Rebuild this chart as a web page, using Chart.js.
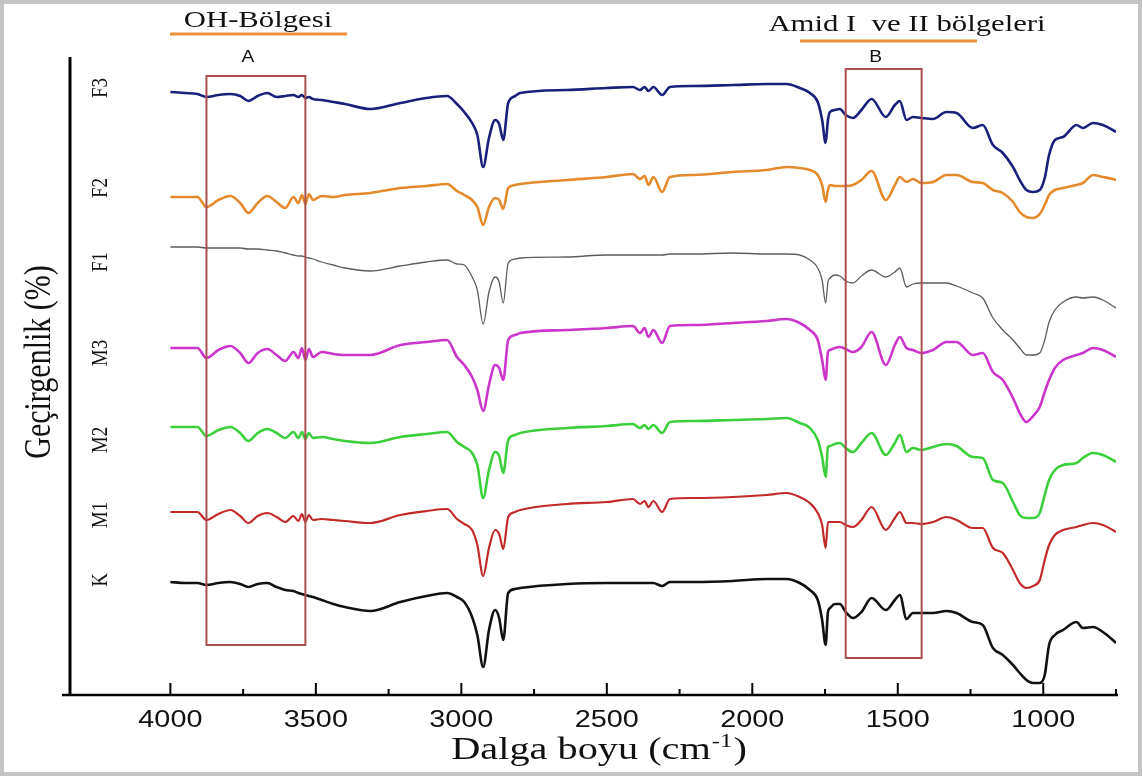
<!DOCTYPE html>
<html>
<head>
<meta charset="utf-8">
<script src="https://cdn.jsdelivr.net/npm/chart.js@4.4.1/dist/chart.umd.min.js"></script>
<style>
  html, body { margin: 0; padding: 0; background: #fff; }
  #wrap { width: 1142px; height: 776px; position: relative; box-sizing: border-box; border: 4px solid #c4c4c4; }
  canvas { position: absolute; left: -4px; top: -4px; }
</style>
</head>
<body>
<div id="wrap"><canvas id="ftir" width="1142" height="776"></canvas></div>
<script>
// FTIR spectra, stacked; y is an offset transmittance (arbitrary units)
const wavenumbers = [
  4000, 3950, 3907, 3876, 3835, 3794, 3760, 3732, 3700, 3667,
  3635, 3605, 3577, 3560, 3548, 3536, 3524, 3510, 3480, 3440,
  3400, 3313, 3210, 3120, 3049, 3015, 2990, 2963, 2945, 2925,
  2905, 2884, 2870, 2856, 2839, 2815, 2798, 2637, 2500, 2410,
  2386, 2370, 2357, 2340, 2310, 2283, 2200, 2067, 1950, 1882,
  1837, 1802, 1775, 1760, 1748, 1740, 1733, 1716, 1699, 1679,
  1654, 1625, 1590, 1541, 1510, 1493, 1470, 1448, 1419, 1379,
  1333, 1298, 1242, 1208, 1173, 1139, 1104, 1081, 1058, 1035,
  1012, 995, 980, 960, 932, 886, 864, 829, 795, 761,
  750
];

const specF3 = [
  603, 602, 601, 598, 600, 601, 599, 594, 599, 602,
  598, 599, 600, 598, 600, 597, 598, 596, 595, 593,
  591, 586, 592, 597, 599, 591, 583, 572, 560, 528,
  557, 575, 571, 555, 592, 599, 602, 605, 607, 608,
  605, 608, 604, 608, 600, 608, 609, 610, 611, 611,
  607, 602, 593, 575, 552, 575, 583, 585, 586, 580,
  577, 585, 596, 578, 590, 594, 575, 578, 577, 576,
  583, 582, 567, 570, 550, 542, 528, 515, 505, 503,
  505, 517, 540, 555, 558, 570, 567, 572, 570, 565,
  563
];

const specF2 = [
  498, 498, 498, 488, 495, 499, 492, 482, 492, 499,
  493, 487, 498, 492, 500, 491, 501, 495, 499, 498,
  500, 502, 507, 509, 511, 504, 500, 495, 488, 470,
  488, 497, 495, 486, 507, 510, 511, 515, 518, 521,
  516, 519, 510, 518, 503, 518, 520, 523, 525, 528,
  527, 525, 520, 510, 493, 505, 510, 509, 509, 509,
  510, 515, 524, 495, 510, 518, 513, 516, 512, 513,
  520, 520, 513, 512, 505, 502, 493, 483, 478, 477,
  481, 490, 500, 505, 507, 510, 512, 520, 518, 516,
  515
];

const specF1 = [
  448, 448, 448, 447, 447, 447, 447, 446, 446, 445,
  444, 442, 440, 439, 439, 438, 437, 436, 433, 430,
  427, 424, 429, 433, 435, 431, 430, 418, 405, 371,
  403, 418, 413, 392, 432, 436, 437, 438, 440, 440,
  440, 440, 440, 440, 440, 441, 441, 442, 441, 441,
  440, 435, 427, 415, 392, 413, 417, 420, 419, 414,
  412, 419, 425, 418, 423, 427, 408, 411, 412, 412,
  412, 409, 402, 397, 377, 365, 355, 347, 340, 340,
  342, 355, 373, 385, 393, 398, 397, 398, 395, 389,
  387
];

const specM3 = [
  347, 347, 347, 337, 345, 349, 342, 332, 342, 346,
  340, 334, 343, 337, 347, 335, 346, 338, 343, 341,
  340, 340, 350, 353, 355, 338, 330, 318, 305, 284,
  310, 330, 327, 315, 355, 360, 362, 365, 367, 369,
  362, 367, 358, 365, 352, 369, 370, 372, 374, 376,
  372, 365, 355, 335, 315, 343, 345, 347, 348, 346,
  343, 348, 363, 330, 350, 358, 347, 345, 342, 345,
  353, 353, 340, 342, 323, 315, 297, 282, 273, 279,
  288, 303, 315, 327, 335, 340, 342, 347, 345, 340,
  338
];

const specM2 = [
  268, 268, 268, 259, 265, 268, 262, 254, 262, 266,
  262, 257, 263, 257, 263, 256, 262, 257, 258, 256,
  254, 252, 258, 261, 263, 253, 248, 242, 230, 197,
  225, 243, 239, 222, 255, 260, 262, 267, 269, 271,
  267, 270, 266, 270, 262, 273, 274, 275, 276, 277,
  272, 267, 255, 238, 218, 248, 249, 251, 252, 247,
  243, 252, 262, 240, 252, 260, 243, 247, 245, 248,
  251, 249, 238, 237, 215, 212, 193, 180, 177, 177,
  182, 200, 215, 225, 230, 232, 237, 242, 240, 235,
  233
];

const specM1 = [
  183, 183, 183, 175, 181, 185, 179, 172, 179, 182,
  178, 173, 179, 174, 181, 173, 180, 175, 176, 175,
  174, 172, 180, 184, 186, 176, 171, 165, 150, 119,
  147, 165, 161, 146, 178, 183, 185, 191, 193, 196,
  191, 194, 188, 194, 183, 196, 197, 198, 200, 202,
  198, 192, 182, 170, 147, 173, 173, 173, 173, 170,
  168, 175, 188, 165, 177, 183, 172, 172, 171, 173,
  178, 175, 167, 167, 147, 142, 125, 112, 107, 109,
  115, 135, 150, 160, 165, 168, 170, 172, 170, 165,
  163
];

const specK = [
  113, 112, 112, 110, 112, 113, 111, 108, 111, 112,
  108, 105, 104, 102, 101, 100, 99, 98, 95, 91,
  88, 84, 93, 99, 102, 98, 93, 78, 60, 28,
  65, 85, 77, 55, 102, 106, 107, 111, 112, 112,
  112, 112, 112, 112, 109, 113, 113, 114, 116, 116,
  112, 105, 95, 75, 50, 83, 87, 91, 91, 83,
  77, 83, 97, 85, 95, 100, 76, 82, 82, 82,
  84, 82, 73, 70, 47, 40, 30, 22, 15, 12,
  12, 20, 50, 60, 65, 73, 67, 68, 63, 55,
  52
];

const sampleNames = ['F3', 'F2', 'F1', 'M3', 'M2', 'M1', 'K'];
const sampleLabelLevels = [607, 507, 433, 342, 255, 180, 115];
const majorTicks = [4000, 3500, 3000, 2500, 2000, 1500, 1000];
const minorTicks = [3750, 3250, 2750, 2250, 1750, 1250, 750];

// highlighted regions: wavenumber span and vertical extent (y units)
const regionA = { from: 3876, to: 3536, top: 619, bottom: 50, tag: 'A', title: 'OH-Bölgesi' };
const regionB = { from: 1679, to: 1418, top: 626, bottom: 37, tag: 'B', title: 'Amid I  ve II bölgeleri' };

const lineStyles = {
  F3: { color: '#18207a', width: 2.6 },
  F2: { color: '#e58a2c', width: 2.6 },
  F1: { color: '#5c5c5c', width: 1.3 },
  M3: { color: '#cb35cb', width: 2.6 },
  M2: { color: '#3ccf3c', width: 2.6 },
  M1: { color: '#c22a2a', width: 2.2 },
  K:  { color: '#111111', width: 2.6 },
};

const spectra = { F3: specF3, F2: specF2, F1: specF1, M3: specM3, M2: specM2, M1: specM1, K: specK };

function toPoints(values) {
  return wavenumbers.map((w, i) => ({ x: w, y: values[i] }));
}

// text with a horizontal stretch, like the scanned figure
function drawStretched(ctx, str, cx, cy, font, sx, rotate, align) {
  ctx.save();
  ctx.translate(cx, cy);
  if (rotate) {
    ctx.rotate(-Math.PI / 2);
    ctx.scale(1, sx);
  } else {
    ctx.scale(sx, 1);
  }
  ctx.font = font;
  ctx.textAlign = align || 'center';
  ctx.textBaseline = 'middle';
  ctx.fillText(str, 0, 0);
  ctx.restore();
}

function stretchedWidth(ctx, str, font, sx) {
  ctx.save();
  ctx.font = font;
  const w = ctx.measureText(str).width * sx;
  ctx.restore();
  return w;
}

const decorPlugin = {
  id: 'decor',
  afterDatasetsDraw(chart) {
    const { ctx, chartArea, scales: { x, y } } = chart;
    const base = chartArea.bottom;
    ctx.save();

    // region boxes
    ctx.strokeStyle = '#a9504f';
    ctx.lineWidth = 2;
    [regionA, regionB].forEach(r => {
      const x0 = x.getPixelForValue(r.from), x1 = x.getPixelForValue(r.to);
      const y0 = y.getPixelForValue(r.top), y1 = y.getPixelForValue(r.bottom);
      ctx.strokeRect(x0, y0, x1 - x0, y1 - y0);
    });

    // axes
    ctx.strokeStyle = '#000';
    ctx.lineWidth = 3;
    ctx.beginPath();
    ctx.moveTo(chartArea.left, chartArea.top + 2);
    ctx.lineTo(chartArea.left, base);
    ctx.stroke();
    ctx.lineWidth = 2.5;
    ctx.beginPath();
    ctx.moveTo(chartArea.left - 8, base);
    ctx.lineTo(chartArea.right + 2, base);
    ctx.stroke();

    ctx.lineWidth = 2;
    majorTicks.forEach(t => {
      const px = x.getPixelForValue(t);
      ctx.beginPath(); ctx.moveTo(px, base); ctx.lineTo(px, base - 12); ctx.stroke();
    });
    minorTicks.forEach(t => {
      const px = x.getPixelForValue(t);
      ctx.beginPath(); ctx.moveTo(px, base); ctx.lineTo(px, base - 6); ctx.stroke();
    });

    // tick labels
    ctx.fillStyle = '#111';
    majorTicks.forEach(t => {
      drawStretched(ctx, String(t), x.getPixelForValue(t), base + 25, '24px "Liberation Sans", Arial', 1.2);
    });

    // x title with superscript
    const tFont = '31px "Liberation Serif", serif', sFont = '19px "Liberation Serif", serif', sx = 1.3;
    const partA = 'Dalga boyu (cm', partB = '-1', partC = ')';
    const wA = stretchedWidth(ctx, partA, tFont, sx);
    const wB = stretchedWidth(ctx, partB, sFont, sx);
    const wC = stretchedWidth(ctx, partC, tFont, sx);
    let tx = 598 - (wA + wB + wC) / 2;
    drawStretched(ctx, partA, tx, base + 56, tFont, sx, false, 'left'); tx += wA;
    drawStretched(ctx, partB, tx + 1, base + 47, sFont, sx, false, 'left'); tx += wB + 2;
    drawStretched(ctx, partC, tx, base + 56, tFont, sx, false, 'left');

    drawStretched(ctx, 'Geçirgenlik (%)', 40, 362, '30px "Liberation Serif", serif', 1.25, true);

    sampleNames.forEach((name, i) => {
      drawStretched(ctx, name, 101, y.getPixelForValue(sampleLabelLevels[i]), '19px "Liberation Serif", serif', 1.25, true);
    });

    // region headers with orange underline
    const headers = [
      { r: regionA, cx: 258, ty: 21, lineFrom: 170, lineTo: 347, ly: 34 },
      { r: regionB, cx: 907, ty: 25, lineFrom: 800, lineTo: 977, ly: 41 },
    ];
    headers.forEach(h => {
      ctx.fillStyle = '#111';
      drawStretched(ctx, h.r.title, h.cx, h.ty, '24px "Liberation Serif", serif', 1.28);
      ctx.strokeStyle = '#ef8e3c';
      ctx.lineWidth = 3;
      ctx.beginPath(); ctx.moveTo(h.lineFrom, h.ly); ctx.lineTo(h.lineTo, h.ly); ctx.stroke();
      const mid = x.getPixelForValue((h.r.from + h.r.to) / 2);
      drawStretched(ctx, h.r.tag, mid - 8, 58, '16px "Liberation Sans", Arial', 1.2);
    });

    ctx.restore();
  }
};

new Chart(document.getElementById('ftir'), {
  type: 'line',
  data: {
    datasets: sampleNames.map(name => ({
      label: name,
      data: toPoints(spectra[name]),
      borderColor: lineStyles[name].color,
      borderWidth: lineStyles[name].width,
      pointRadius: 0,
      fill: false,
      cubicInterpolationMode: 'monotone',
    })),
  },
  options: {
    responsive: false,
    animation: false,
    layout: { padding: { left: 70, right: 26, top: 55, bottom: 81 } },
    plugins: { legend: { display: false }, tooltip: { enabled: false } },
    scales: {
      x: { type: 'linear', reverse: true, min: 750, max: 4345, display: false },
      y: { min: 0, max: 640, display: false },
    },
  },
  plugins: [decorPlugin],
});
</script>
</body>
</html>
